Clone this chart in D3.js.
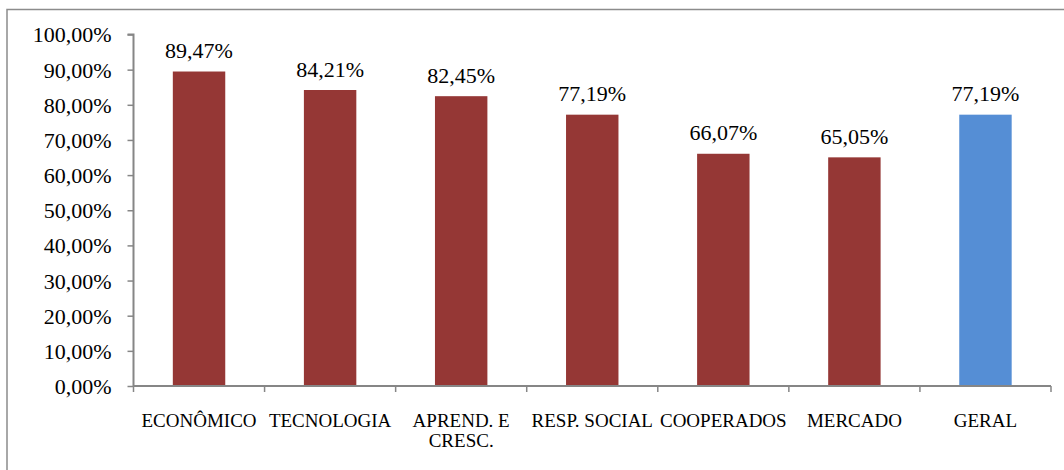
<!DOCTYPE html>
<html>
<head>
<meta charset="utf-8">
<script src="https://cdn.jsdelivr.net/npm/d3@7"></script>
<style>
  html, body { margin: 0; padding: 0; background: #fff; }
  svg { display: block; }
  text { font-family: "Liberation Serif", "Times New Roman", serif; }
</style>
</head>
<body>
<svg id="chart" width="1064" height="470"></svg>
<script>
const categories = ["ECONÔMICO", "TECNOLOGIA", "APREND. E\nCRESC.", "RESP. SOCIAL", "COOPERADOS", "MERCADO", "GERAL"];
const values = [89.47, 84.21, 82.45, 77.19, 66.07, 65.05, 77.19];
const barColors = ["#953735", "#953735", "#953735", "#953735", "#953735", "#953735", "#558ED5"];
const yTicks = [0, 10, 20, 30, 40, 50, 60, 70, 80, 90, 100];

const svg = d3.select("#chart");
const fmt = v => v.toFixed(2).replace(".", ",") + "%";

// outer border
svg.append("rect")
  .attr("x", 7).attr("y", 9.5).attr("width", 1100).attr("height", 500)
  .attr("fill", "none").attr("stroke", "#8c8c8c").attr("stroke-width", 1.5);

const x = d3.scaleBand().domain(categories).range([133.5, 1051]).padding(0);
const y = d3.scaleLinear().domain([0, 100]).range([386, 34.5]);

// y axis
const yAxis = d3.axisLeft(y).tickValues(yTicks).tickSize(6).tickPadding(16)
  .tickFormat(d => fmt(d));
const gy = svg.append("g").attr("transform", "translate(133.5,0)").call(yAxis);
gy.attr("font-family", null).attr("font-size", null);
gy.select(".domain").attr("stroke", "#868686").attr("stroke-width", 2).attr("d", `M-6,${y(100)}H0V${y(0)}`);
gy.selectAll(".tick line").attr("stroke", "#868686").attr("stroke-width", 1.5);
gy.selectAll(".tick text").attr("fill", "#000").style("font-size", "22px").attr("dy", "0.34em");

// bars
const bw = x.bandwidth() * 0.4;
svg.append("g").selectAll("rect").data(values).join("rect")
  .attr("x", (d, i) => x(categories[i]) + x.bandwidth() / 2 - bw / 2)
  .attr("y", d => y(d))
  .attr("width", bw)
  .attr("height", d => y(0) - y(d))
  .attr("fill", (d, i) => barColors[i]);

// x axis
const gx = svg.append("g").attr("transform", `translate(0,${y(0)})`);
gx.append("line").attr("x1", x.range()[0]).attr("x2", x.range()[1])
  .attr("stroke", "#868686").attr("stroke-width", 2);
const bounds = categories.map(c => x(c)).concat([x.range()[1]]);
gx.selectAll("line.tk").data(bounds).join("line").attr("class", "tk")
  .attr("x1", d => d).attr("x2", d => d).attr("y1", 0).attr("y2", 6)
  .attr("stroke", "#868686").attr("stroke-width", 1.5);

// category labels
const labels = svg.append("g").selectAll("text").data(categories).join("text")
  .attr("x", d => x(d) + x.bandwidth() / 2)
  .attr("y", 427)
  .attr("text-anchor", "middle")
  .style("font-size", "19px").attr("fill", "#000");
labels.each(function(d) {
  const lines = d.split("\n");
  const t = d3.select(this);
  lines.forEach((ln, i) => {
    t.append("tspan").attr("x", x(d) + x.bandwidth() / 2).attr("dy", i === 0 ? 0 : 19.5).text(ln);
  });
});

// data labels
svg.append("g").selectAll("text").data(values).join("text")
  .attr("x", (d, i) => x(categories[i]) + x.bandwidth() / 2)
  .attr("y", d => y(d) - 13.5)
  .attr("text-anchor", "middle")
  .style("font-size", "22px").attr("fill", "#000")
  .text(d => fmt(d));
</script>
</body>
</html>
